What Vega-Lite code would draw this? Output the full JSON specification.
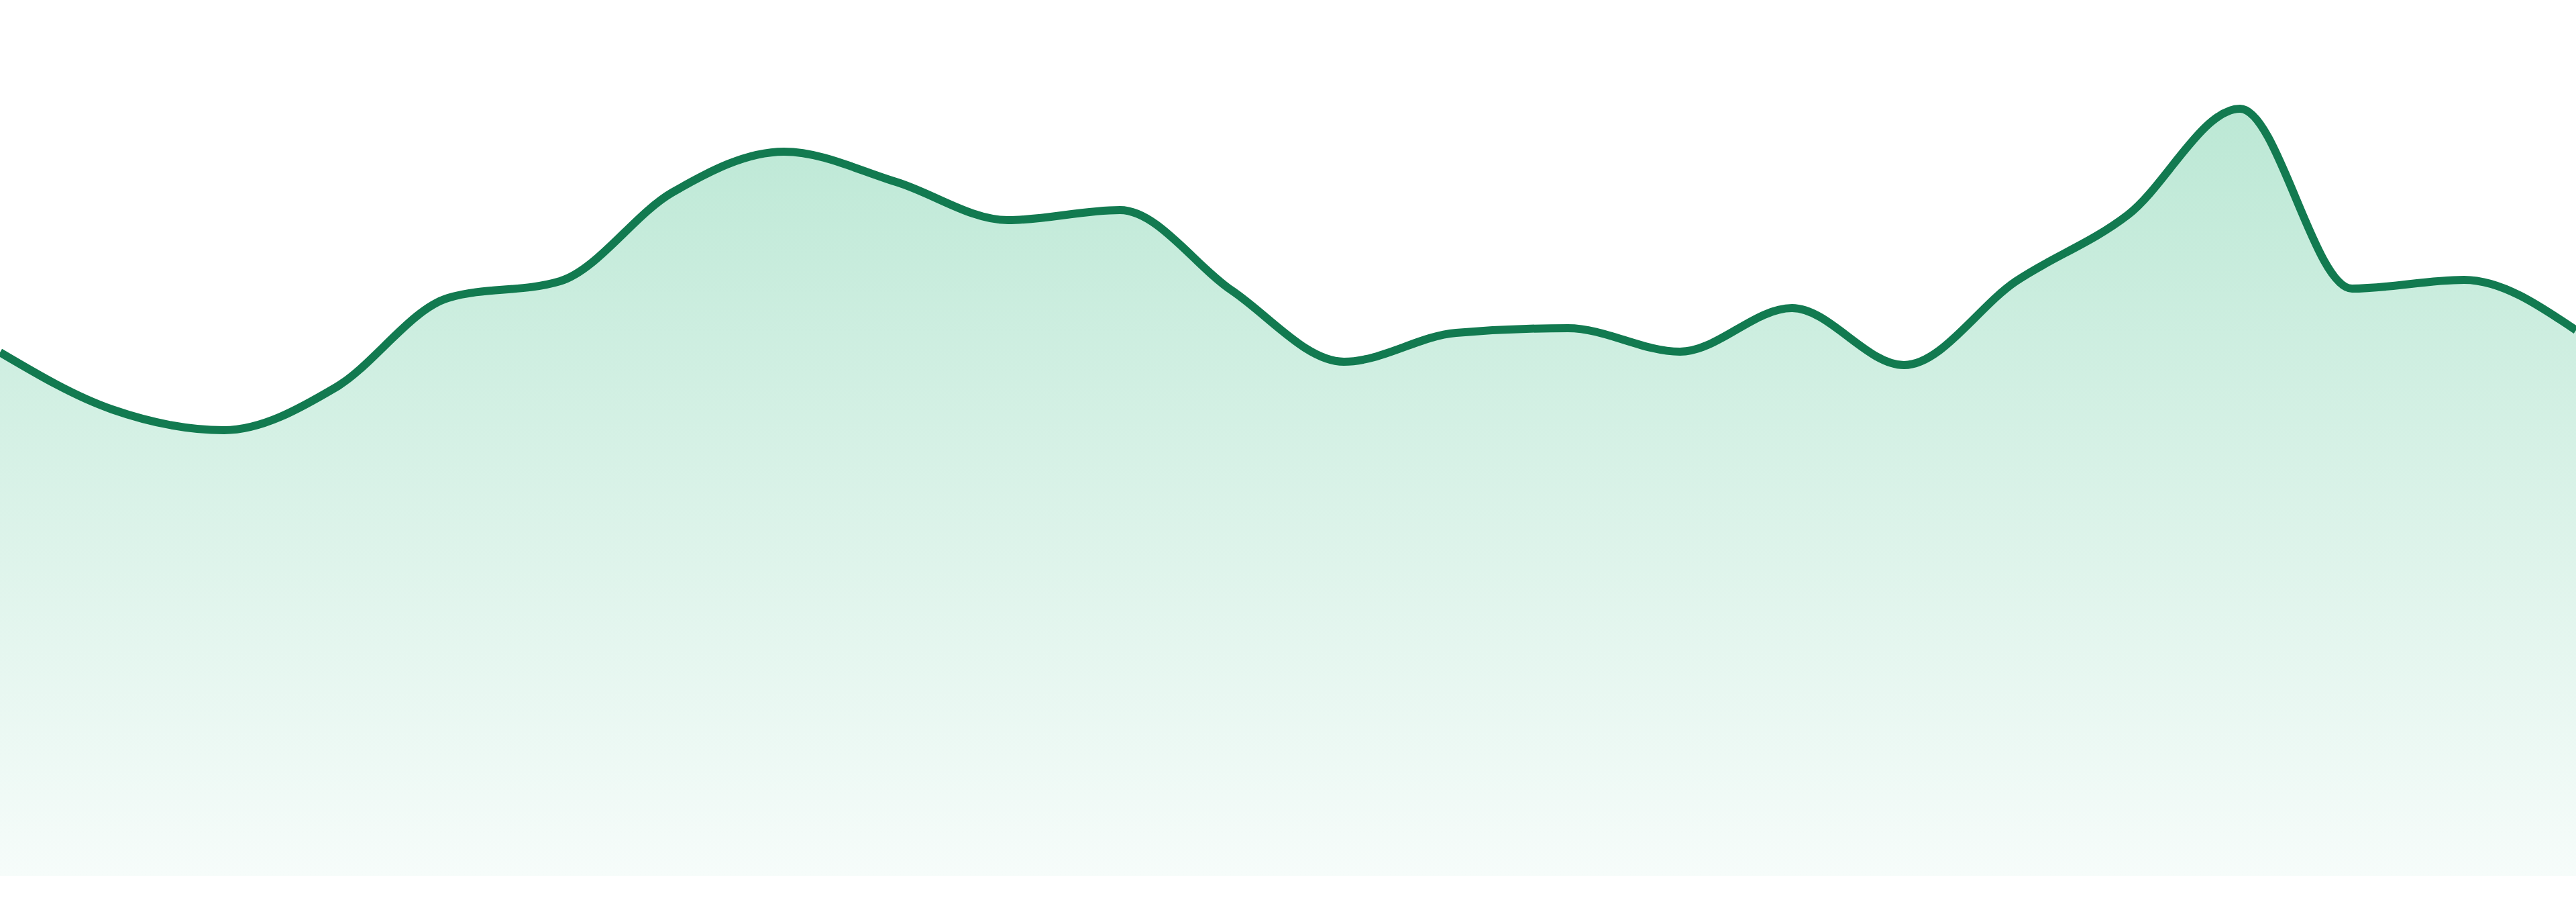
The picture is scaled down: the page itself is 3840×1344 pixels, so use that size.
{
  "$schema": "https://vega.github.io/schema/vega-lite/v6.json",
  "width": 3840,
  "height": 1305,
  "autosize": {"type": "none"},
  "padding": {"left": 0, "right": 0, "top": 0, "bottom": 39},
  "background": "white",
  "data": {
    "values": [
      {"index": 0, "value": 780},
      {"index": 1, "value": 695},
      {"index": 2, "value": 664},
      {"index": 3, "value": 728},
      {"index": 4, "value": 861},
      {"index": 5, "value": 886},
      {"index": 6, "value": 1018},
      {"index": 7, "value": 1079},
      {"index": 8, "value": 1034},
      {"index": 9, "value": 977},
      {"index": 10, "value": 992},
      {"index": 11, "value": 872},
      {"index": 12, "value": 766},
      {"index": 13, "value": 809},
      {"index": 14, "value": 816},
      {"index": 15, "value": 781},
      {"index": 16, "value": 846},
      {"index": 17, "value": 761},
      {"index": 18, "value": 886},
      {"index": 19, "value": 985},
      {"index": 20, "value": 1143},
      {"index": 21, "value": 875},
      {"index": 22, "value": 888},
      {"index": 23, "value": 813}
    ]
  },
  "encoding": {
    "x": {"field": "index", "type": "quantitative", "scale": {"domain": [0, 23], "nice": false, "zero": false}, "axis": null},
    "y": {"field": "value", "type": "quantitative", "scale": {"domain": [0, 1305], "nice": false}, "axis": null}
  },
  "layer": [
    {
      "mark": {
        "type": "area",
        "interpolate": "monotone",
        "color": {
          "gradient": "linear",
          "x1": 0, "y1": 0, "x2": 0, "y2": 1,
          "stops": [
            {"offset": 0, "color": "#bce8d5"},
            {"offset": 1, "color": "#f6fcfa"}
          ]
        }
      }
    },
    {
      "mark": {"type": "line", "interpolate": "monotone", "color": "#127a50", "strokeWidth": 12}
    }
  ],
  "config": {"view": {"stroke": null}}
}
